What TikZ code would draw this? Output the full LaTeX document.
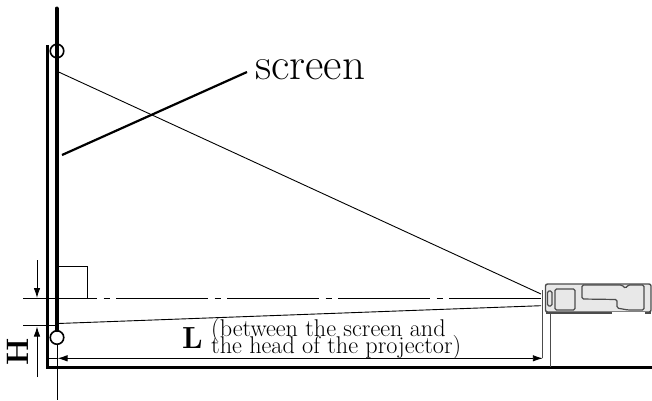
\documentclass[tikz,border=0pt]{standalone}
\usetikzlibrary{arrows.meta}
\usetikzlibrary{positioning}
\definecolor{projline}{gray}{0.3}
\definecolor{projfill}{gray}{0.91}
\tikzset{
    wall/.style={line width=3.4pt},
    thin line/.style={line width=0.9pt},
    dim/.style={line width=0.9pt, -{Latex[length=10pt,width=6.5pt]}},
    mark circle/.style={circle, draw, line width=1.6pt, minimum size=13.5pt, inner sep=0pt},
    body/.style={draw=projline, fill=projfill, line width=1.2pt, rounded corners=1.5pt},
    label/.style={inner sep=0pt, anchor=base west},
}
\begin{document}
\begin{tikzpicture}[x=1pt,y=-1pt]
\useasboundingbox (0,0) rectangle (652,400);
% screen and room
\coordinate (wt) at (47.2,45);
\coordinate (wb) at (47.2,367.7);
\coordinate (fl) at (652,367.7);
\coordinate (st) at (56.6,8.5);
\coordinate (sb) at (56.6,330);
\draw[wall] (wt) -- (wb) -- (fl);
\draw[line width=4pt, line cap=round] (st) -- (sb);
\node[mark circle] (c1) at (57,51) {};
\node[mark circle] (c2) at (57,337.5) {};
\coordinate (cb) at (57,400);
\draw[thin line] (c2) -- (cb);
% projector
\coordinate (pl) at (542.8,290);
\coordinate (pf) at (550,314);
\coordinate (pb) at (550,367);
\coordinate (pd) at (542.8,358.3);
\draw[draw=projline, fill=projfill, line width=1.4pt, rounded corners=2pt] (545.5,284) rectangle (651,312);
\draw[draw=projline, line width=2.2pt] (545.5,313) -- (651,313);
\draw[draw=white, line width=1.4pt] (612,313) -- (645,313);
\draw[body] (547.5,291) rectangle (552,306);
\draw[body] (555,289) rectangle (575,310);
\draw[body] (582,285) -- (582,299) -- (617,299.5) -- (617,308) -- (628,310) -- (644,310) -- (644,285) -- (628,285) -- (625.5,288.5) -- (622,285) -- cycle;
\draw[draw=projline, line width=1pt] (pl) -- (pd);
\draw[draw=projline, line width=1pt] (pf) -- (pb);
% light rays
\coordinate (r1) at (58,71.7);
\coordinate (r2) at (541,294);
\coordinate (r3) at (58,323.5);
\coordinate (r4) at (541,305.7);
\draw[thin line] (r1) -- (r2);
\draw[thin line] (r3) -- (r4);
% axis and right angle
\coordinate (a1) at (23,298.5);
\coordinate (a2) at (57,298.5);
\coordinate (a3) at (541,298.5);
\coordinate (a4) at (23,325.5);
\coordinate (a5) at (57,325.5);
\draw[thin line] (a1) -- (a2);
\draw[thin line] (a4) -- (a5);
\draw[thin line, dash pattern=on 92pt off 6.5pt on 6.5pt off 6pt, dash phase=52pt] (a2) -- (a3);
\coordinate (q1) at (57,266.8);
\coordinate (q2) at (87.7,266.8);
\coordinate (q3) at (87.7,298.5);
\draw[line width=1.3pt] (q1) -- (q2) -- (q3);
% dimensions
\coordinate (h1) at (37,260);
\coordinate (h2) at (37,298);
\coordinate (h3) at (37,377);
\coordinate (h4) at (37,326.5);
\coordinate (d1) at (48,358.3);
\coordinate (d2) at (57.5,358.3);
\draw[dim] (h1) -- (h2);
\draw[dim] (h3) -- (h4);
\draw[thin line] (d1) -- (d2);
\draw[dim, {Latex[length=10pt,width=6.5pt]}-{Latex[length=10pt,width=6.5pt]}] (d2) -- (pd);
% labels
\node[rotate=90] (hlabel) at (18,351.5) {\fontsize{31}{31}\selectfont\bfseries H};
\node[label] (llabel) at (182,348) {\fontsize{30.5}{30.5}\selectfont\bfseries L};
\node[label, align=left, font=\fontsize{24.2}{16}\selectfont] (note) at (211,353.5) {(between the screen and\\[-8.5pt]the head of the projector)};
\node[label] (slabel) at (255,79) {\fontsize{45}{45}\selectfont screen};
\coordinate (sl1) at (62,155);
\coordinate (sl2) at (247,72);
\draw[line width=2.2pt] (sl1) -- (sl2);
\end{tikzpicture}
\end{document}
